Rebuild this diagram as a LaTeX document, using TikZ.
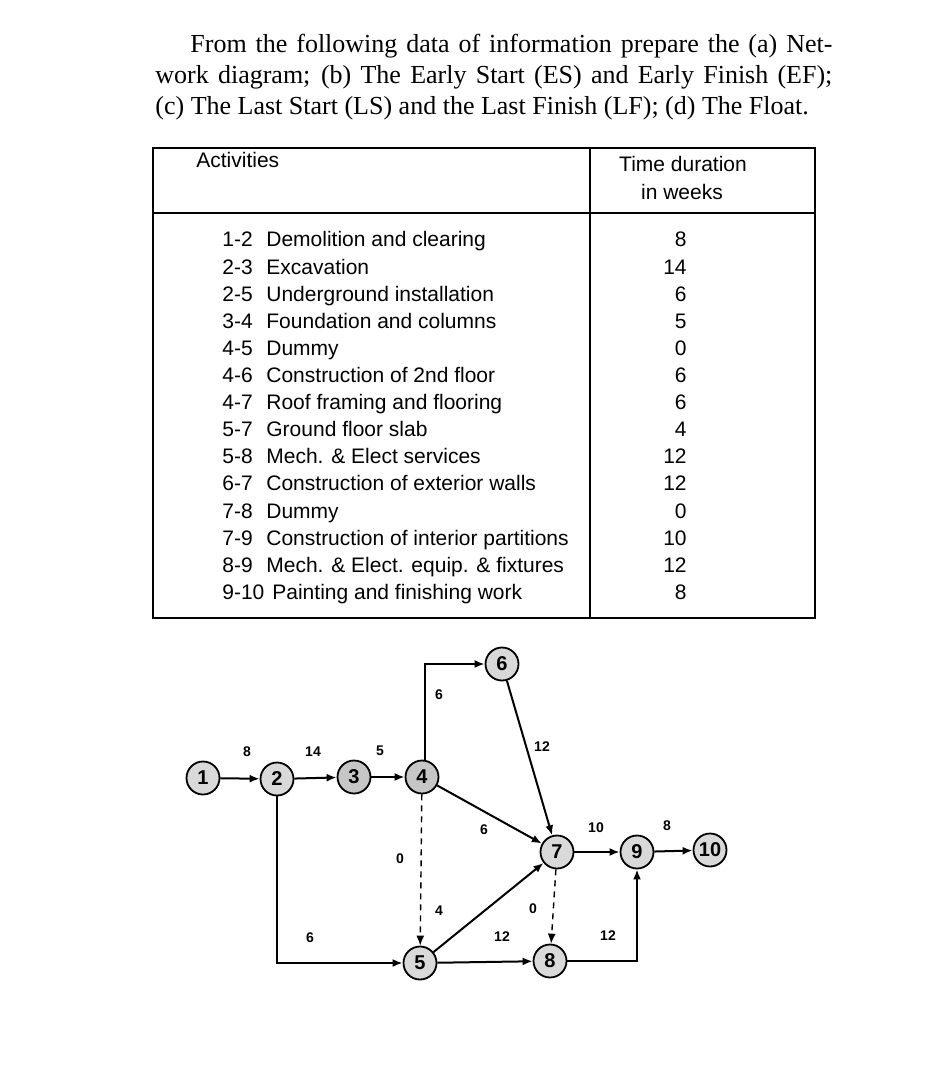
\documentclass[tikz,border=0pt]{standalone}
\usepackage{fontspec}
\setmainfont{Liberation Serif}
\setsansfont{Liberation Sans}
\usetikzlibrary{arrows.meta}
\tikzset{
	x=0.5pt, y=-0.5pt,
	>={Latex[length=5pt,width=4pt]},
	event/.style={circle, draw=black, line width=0.9pt, fill=gray!30, minimum size=16.5pt, inner sep=0pt, font=\sffamily\bfseries\fontsize{10}{10}\selectfont},
	activity/.style={black, line width=1pt, ->},
	dummy/.style={black, line width=0.7pt, dash pattern=on 3pt off 2.5pt, ->},
	durlabel/.style={font=\sffamily\bfseries\fontsize{7}{7}\selectfont, inner sep=0pt},
	rowtext/.style={font=\sffamily\fontsize{10.5}{12}\selectfont, inner sep=0pt},
	tableline/.style={black, line width=0.8pt},
}
\begin{document}
\begin{tikzpicture}
	\useasboundingbox (0,0) rectangle (938,1075);

	% problem statement
	\node[anchor=north west, inner sep=0pt, text width=338.5pt, align=justify,
		font=\fontsize{13}{15.5}\selectfont] (stmt) at (155,34)
	{\hspace*{17.5pt}From the following data of information prepare the (a) Net-\linebreak
	work diagram; (b) The Early Start (ES) and Early Finish (EF);\linebreak
	(c) The Last Start (LS) and the Last Finish (LF); (d) The Float.};

	% data table
	\draw[tableline] (153,148) rectangle (815,618);
	\draw[tableline] (153,213) -- (815,213);
	\draw[tableline] (590,148) -- (590,618);
	\node[rowtext, anchor=base west] (hact) at (196,168) {Activities};
	\node[rowtext, anchor=base] (htime) at (683,172) {Time duration};
	\node[rowtext, anchor=base] (hweeks) at (682,200) {in weeks};
	\foreach \code/\desc/\dur [count=\i] in {
		1-2/Demolition and clearing/8,
		2-3/Excavation/14,
		2-5/Underground installation/6,
		3-4/Foundation and columns/5,
		4-5/Dummy/0,
		4-6/Construction of 2nd floor/6,
		4-7/Roof framing and flooring/6,
		5-7/Ground floor slab/4,
		5-8/Mech. \& Elect services/12,
		6-7/Construction of exterior walls/12,
		7-8/Dummy/0,
		7-9/Construction of interior partitions/10,
		8-9/Mech. \& Elect. equip. \& fixtures/12,
		9-10/Painting and finishing work/8}
	{
		\pgfmathsetmacro{\rowy}{247+27.1*(\i-1)}
		\ifnum\i=14 \def\descx{272}\else\def\descx{266}\fi
		\node[rowtext, anchor=base west] (code\i) at (222,\rowy) {\code};
		\node[rowtext, anchor=base west] (desc\i) at (\descx,\rowy) {\desc};
		\node[rowtext, anchor=base east] (dur\i) at (687,\rowy) {\dur};
	}

	% network events
	\node[event] (n1) at (203,778) {1};
	\node[event] (n2) at (277,779) {2};
	\node[event, fill=gray!45] (n3) at (354,777) {3};
	\node[event, fill=gray!45] (n4) at (422,777) {4};
	\node[event] (n6) at (502,664) {6};
	\node[event] (n7) at (557,852) {7};
	\node[event] (n9) at (637,852) {9};
	\node[event] (n10) at (710,850) {10};
	\node[event] (n5) at (420,963) {5};
	\node[event] (n8) at (550,961) {8};

	% activities
	\draw[activity] (n1) -- (n2);
	\draw[activity] (n2) -- (n3);
	\draw[activity] (n3) -- (n4);
	\draw[activity] ([xshift=1.5pt]n4.north) |- (n6.west);
	\draw[activity] (n6) -- (n7);
	\draw[activity] (n4) -- (n7);
	\draw[dummy] (n4) -- (n5);
	\draw[activity] (n2) |- (n5);
	\draw[activity] (n5) -- (n7);
	\draw[activity] (n5) -- (n8);
	\draw[dummy] (n7) -- (n8);
	\draw[activity] (n7) -- (n9);
	\draw[activity] (n9) -- (n10);
	\draw[activity] (n8) -| (n9);

	% durations
	\foreach \x/\y/\t/\n in {247/752/8/a, 313/752/14/b, 380/751/5/c, 439/695/6/d,
		542/747/12/e, 484/830/6/f, 400/859/0/g, 310/938/6/h, 439/911/4/i,
		502/937/12/j, 533/909/0/k, 596/828/10/l, 667/826/8/m, 608/936/12/o}
		\node[durlabel] (lab\n) at (\x,\y) {\t};
\end{tikzpicture}
\end{document}
